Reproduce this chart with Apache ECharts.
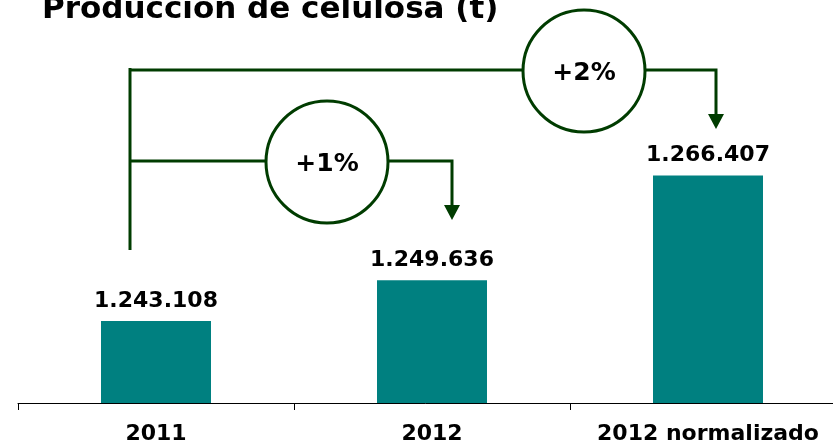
<!DOCTYPE html>
<html>
<head>
<meta charset="utf-8">
<script src="https://cdn.jsdelivr.net/npm/echarts@6/dist/echarts.min.js"></script>
<style>
  html, body { margin: 0; padding: 0; background: #fff; }
  #chart { width: 833px; height: 445px; }
</style>
</head>
<body>
<div id="chart"></div>
<script>
var categories = ['2011', '2012', '2012 normalizado'];
var produccion = [1243108, 1249636, 1266407];
var variaciones = ['+1%', '+2%'];

var FONT = '"DejaVu Sans", Verdana, sans-serif';
var VERDE = '#003c00';

// 1.243.108 style
var fmtMiles = function (v) {
    return String(v).replace(/\B(?=(\d{3})+(?!\d))/g, '.');
};

var chart = echarts.init(document.getElementById('chart'), null, { renderer: 'canvas' });

// brackets: line + circle with the % change + arrow
var bracket = function (y, x0, x1, yTip, cx, r, text) {
    return [
        {
            type: 'polyline', z: 10,
            shape: { points: [[x0, y], [x1, y], [x1, yTip - 14]] },
            style: { stroke: VERDE, lineWidth: 3, fill: null }
        },
        {
            type: 'polygon', z: 10,
            shape: { points: [[x1 - 8, yTip - 15], [x1 + 8, yTip - 15], [x1, yTip]] },
            style: { fill: VERDE }
        },
        {
            type: 'circle', z: 11,
            shape: { cx: cx, cy: y + 1, r: r },
            style: { fill: '#fff', stroke: VERDE, lineWidth: 3 }
        },
        {
            type: 'text', z: 12, x: cx, y: y + 3,
            style: {
                text: text, fill: '#000', font: 'bold 25px ' + FONT,
                align: 'center', verticalAlign: 'middle'
            }
        }
    ];
};

var graphics = [
    {
        type: 'line', z: 10,
        shape: { x1: 130, y1: 68, x2: 130, y2: 250 },
        style: { stroke: VERDE, lineWidth: 3 }
    }
].concat(
    bracket(161, 130, 452, 220, 327, 61, variaciones[0]),
    bracket(70, 130, 716, 129, 584, 61, variaciones[1])
);

var option = {
    animation: false,
    title: {
        text: 'Producción de celulosa (t)',
        left: 37,
        top: -11,
        textStyle: { fontFamily: FONT, fontWeight: 'bold', fontSize: 31, color: '#000' }
    },
    grid: { left: 18, top: 3, width: 828, height: 400, outerBoundsMode: 'none', containLabel: false },
    xAxis: {
        type: 'category',
        data: categories,
        axisLine: { lineStyle: { color: '#000', width: 1 } },
        axisTick: { show: true, length: 7, lineStyle: { color: '#000' } },
        axisLabel: {
            color: '#000', fontFamily: FONT, fontWeight: 'bold', fontSize: 22,
            margin: 20, interval: 0
        }
    },
    yAxis: {
        type: 'value',
        min: 1230000,
        max: 1294000,
        show: false,
        splitLine: { show: false }
    },
    series: [
        {
            type: 'bar',
            data: produccion,
            barWidth: 110,
            itemStyle: { color: '#008080' },
            label: {
                show: true,
                position: 'top',
                distance: 9,
                color: '#000',
                fontFamily: FONT,
                fontWeight: 'bold',
                fontSize: 22,
                formatter: function (p) { return fmtMiles(p.value); }
            }
        }
    ],
    graphic: graphics
};

chart.setOption(option);
</script>
</body>
</html>
